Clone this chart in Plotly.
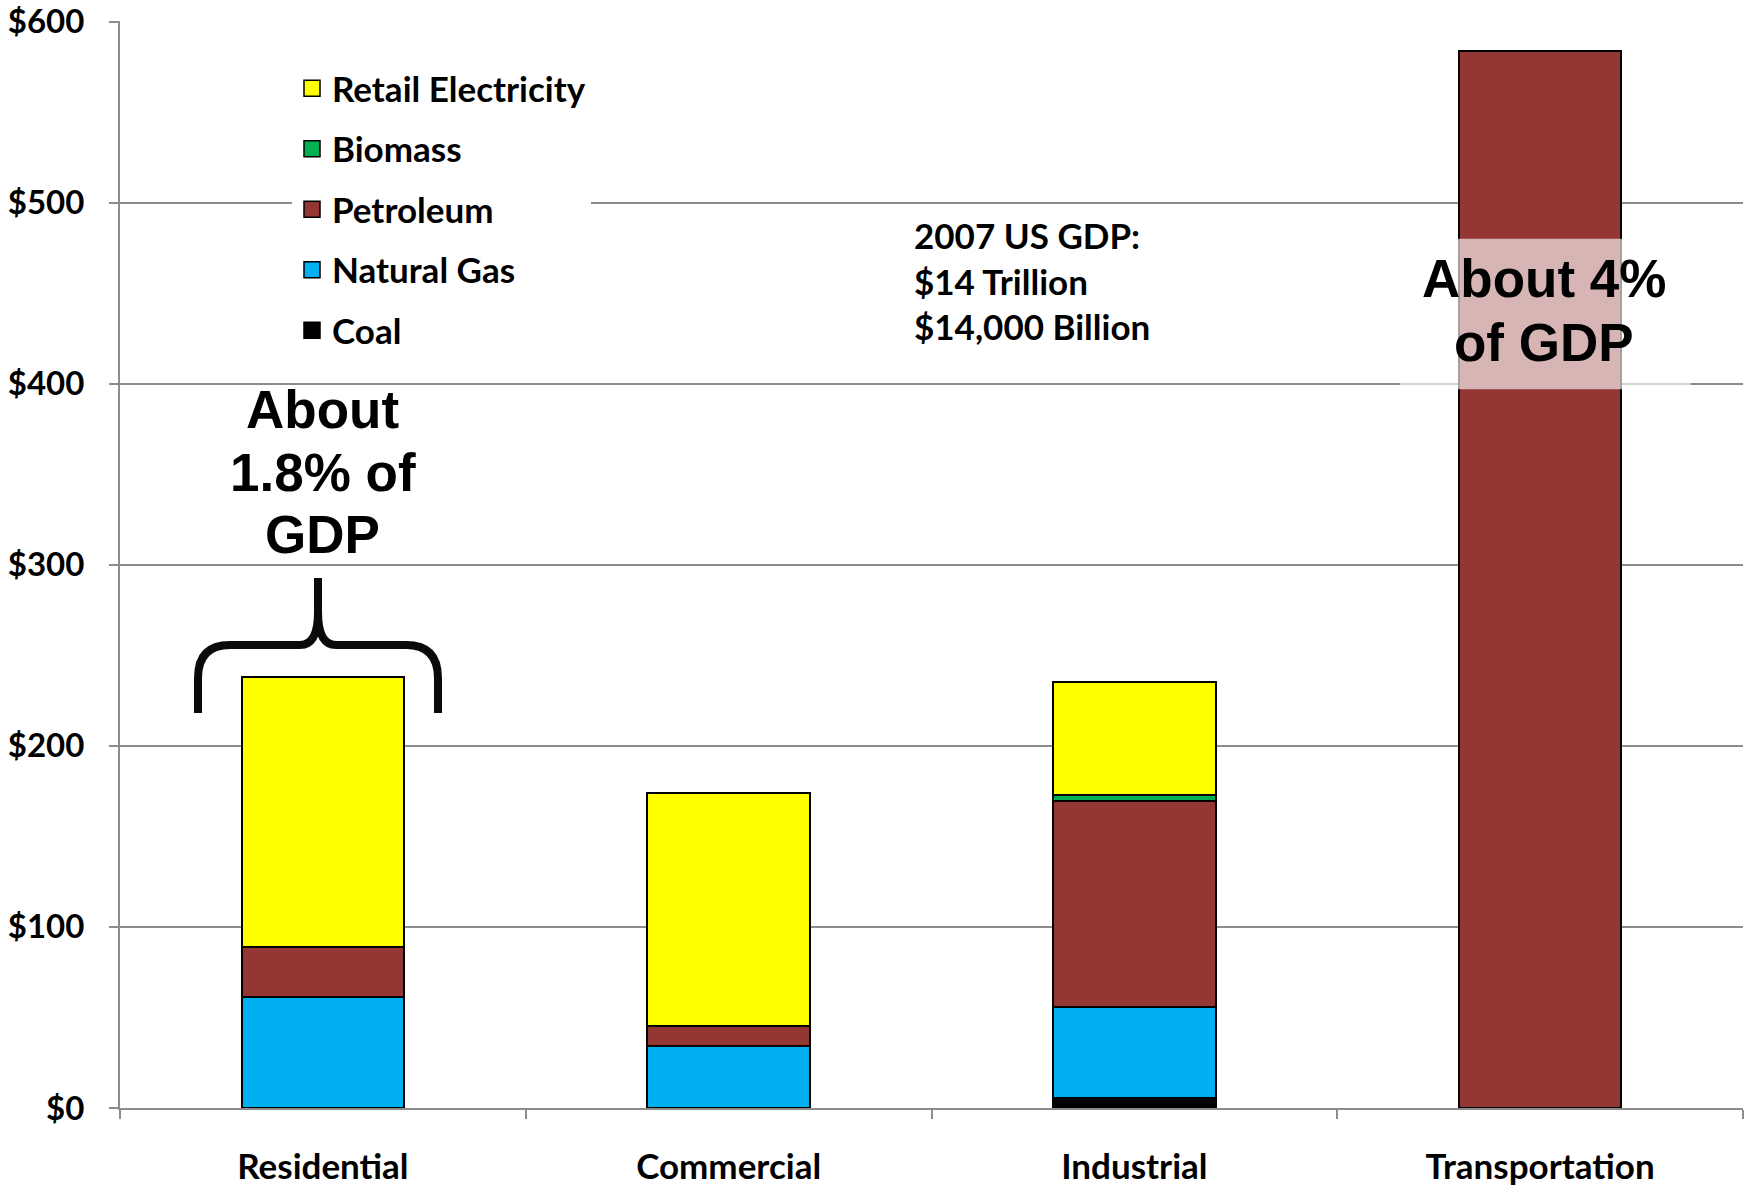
import plotly.graph_objects as go

categories = ["Residential", "Commercial", "Industrial", "Transportation"]
coal = [0, 0, 5.5, 0]
natural_gas = [61.3, 34.0, 50.4, 0]
petroleum = [27.6, 11.1, 113.5, 584.0]
biomass = [0, 0, 3.3, 0]
retail_electricity = [149.3, 129.0, 62.8, 0]

series_names = ["Coal", "Natural Gas", "Petroleum", "Biomass", "Retail Electricity"]
series_values = [coal, natural_gas, petroleum, biomass, retail_electricity]
series_colors = ["#000000", "#00B0F0", "#943634", "#00B050", "#FFFF00"]

y_tick_vals = [0, 100, 200, 300, 400, 500, 600]
y_tick_text = ["$0", "$100", "$200", "$300", "$400", "$500", "$600"]

left_note_lines = ["About", "1.8% of", "GDP"]
left_note_y = [386, 351, 316.5]
right_note_lines = ["About 4%", "of GDP"]
right_note_y = [458, 423]
gdp_note = "2007 US GDP:<br>$14 Trillion<br>$14,000 Billion"

W, H = 1752, 1186
ML, MR, MT, MB = 120, 9, 21, 78
PW, PH = W - ML - MR, H - MT - MB
Y_MAX = 600.3

LABEL_FONT = dict(family="Lato", size=35, color="black", weight="bold")
YTICK_FONT = dict(family="Lato", size=33, color="black", weight="bold")
BIG_FONT = dict(family="Liberation Sans", size=53, color="black", weight="bold")

fig = go.Figure()
for name, vals, col in zip(series_names, series_values, series_colors):
    fig.add_trace(go.Bar(
        x=categories, y=vals, name=name, marker=dict(color=col, line=dict(color="black", width=2)),
        showlegend=False, legendgroup=name,
    ))

legend_order = list(reversed(list(zip(series_names, series_colors))))
for rank, (name, col) in enumerate(legend_order):
    fig.add_trace(go.Scatter(
        x=[None], y=[None], mode="markers", name=name, legendgroup=name, legendrank=rank + 1,
        marker=dict(symbol="square", size=20, color=col, line=dict(color="black", width=1.5)),
    ))


def px_to_paper(px, py):
    return (px - ML) / PW, (H - MB - py) / PH


brace_pts = [
    ("M", [(198, 713)]), ("L", [(198, 678)]), ("Q", [(198, 645), (230, 645)]), ("L", [(300, 645)]),
    ("Q", [(318, 645), (318, 612)]), ("L", [(318, 578)]), ("L", [(318, 612)]),
    ("Q", [(318, 645), (336, 645)]), ("L", [(406, 645)]), ("Q", [(438, 645), (438, 678)]), ("L", [(438, 713)]),
]
path = ""
for cmd, pts in brace_pts:
    coords = " ".join("%.5f,%.5f" % px_to_paper(x, y) for x, y in pts)
    path += cmd + coords + " "

fig.add_shape(type="path", path=path.strip(), xref="paper", yref="paper",
              line=dict(color="#0a0a0a", width=8), layer="above")

fig.add_shape(type="rect", xref="x", yref="y", x0=2.654, x1=3.371, y0=397, y1=480,
              fillcolor="rgba(255,255,255,0.63)", line=dict(width=0), layer="above")

for txt, yv in zip(left_note_lines, left_note_y):
    fig.add_annotation(x=0, y=yv, xref="x", yref="y", text=txt, showarrow=False,
                       font=BIG_FONT, xanchor="center", yanchor="middle")
for txt, yv in zip(right_note_lines, right_note_y):
    fig.add_annotation(x=3, y=yv, xref="x", yref="y", text=txt, showarrow=False,
                       font=BIG_FONT, xanchor="center", yanchor="middle", xshift=4)

fig.add_annotation(x=(912 - ML) / PW, y=457, xref="paper", yref="y", text=gdp_note, showarrow=False,
                   font=LABEL_FONT, xanchor="left", yanchor="middle", align="left")

fig.update_layout(
    width=W, height=H,
    margin=dict(l=ML, r=MR, t=MT, b=MB, autoexpand=False),
    paper_bgcolor="white", plot_bgcolor="white",
    barmode="stack", bargap=0.6,
    font=LABEL_FONT,
    legend=dict(x=(292 - ML) / PW, y=(H - MB - 59) / PH, xanchor="left", yanchor="top",
                bgcolor="white", font=LABEL_FONT, tracegroupgap=12, traceorder="grouped"),
    xaxis=dict(type="category", range=[-0.5, 3.5], showline=True, linecolor="#8c8c8c", linewidth=2,
               ticks="outside", tickson="boundaries", ticklen=9, tickcolor="#8c8c8c", tickwidth=2,
               tickfont=LABEL_FONT, ticklabelstandoff=27, showgrid=False, automargin=False),
    yaxis=dict(range=[0, Y_MAX], tickvals=y_tick_vals, ticktext=y_tick_text, showline=True,
               linecolor="#8c8c8c", linewidth=2, ticks="outside", ticklen=9, tickcolor="#8c8c8c",
               tickwidth=2, showgrid=True, gridcolor="#8c8c8c", gridwidth=2, zeroline=False,
               tickfont=YTICK_FONT, ticklabelstandoff=18, automargin=False, ticklabeloverflow="allow"),
)

fig.write_html("out.html")
